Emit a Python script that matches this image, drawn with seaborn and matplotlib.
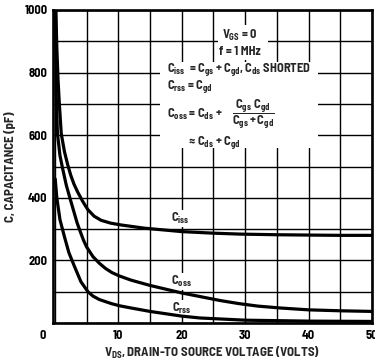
import matplotlib
matplotlib.use("Agg")
import matplotlib.pyplot as plt
import seaborn as sns
import pandas as pd
from matplotlib.patches import Rectangle
from matplotlib.transforms import ScaledTranslation

# ---- data ----
ciss_v = [0.15, 0.3, 0.5, 0.7, 1.0, 1.5, 2.0, 2.5, 3.0, 3.6, 4.4, 5.2, 6.2, 7.3, 8.8, 10.5, 14.1, 20, 25, 29.2, 35, 39.7, 45, 50]
ciss_c = [1000, 880, 775, 700, 605, 548, 507, 472, 444, 418, 388, 362, 341, 328, 319, 313, 303, 292, 287, 284, 282, 281, 280, 280]

coss_v = [0.1, 0.15, 0.2, 0.4, 0.8, 1.2, 1.8, 2.5, 3.0, 3.5, 4.0, 4.5, 5.0, 6.0, 7.0, 8.0, 9.0, 10.2, 12, 15, 20, 23, 26, 29, 32, 35.5, 40, 45, 50]
coss_c = [1000, 850, 730, 605, 535, 495, 440, 390, 355, 320, 292, 265, 243, 212, 191, 174, 161, 150, 137, 120, 96, 84, 72, 62, 54, 48, 42, 39, 37]

crss_v = [0.05, 0.3, 0.8, 1.5, 2.2, 3.1, 4.1, 5.2, 6.0, 7.0, 8.9, 10.2, 12, 15, 20, 22.9, 30, 40, 50]
crss_c = [460, 400, 330, 276, 225, 180, 132, 100, 86, 75, 62, 55, 48, 37, 22, 16, 9, 6, 5]

x_ticks = [0, 5, 10, 15, 20, 25, 30, 35, 40, 45, 50]
x_labels = ["0", "", "10", "", "20", "", "30", "", "40", "", "50"]
y_ticks = [0, 100, 200, 300, 400, 500, 600, 700, 800, 900, 1000]
y_labels = ["", "", "200", "", "400", "", "600", "", "800", "", "1000"]

curve_labels = [r"$C_{iss}$", r"$C_{oss}$", r"$C_{rss}$"]
curve_label_v = [19.7, 20.0, 20.0]
curve_label_c = [335, 133, 47]

FONT = "Barlow Semi Condensed"
sns.set_theme(style="white")
plt.rcParams["font.family"] = [FONT, "DejaVu Sans"]
plt.rcParams["font.weight"] = "bold"
plt.rcParams["mathtext.fontset"] = "custom"
plt.rcParams["mathtext.rm"] = FONT + ":bold"
plt.rcParams["mathtext.it"] = FONT + ":bold"
plt.rcParams["mathtext.bf"] = FONT + ":bold"
plt.rcParams["mathtext.sf"] = FONT + ":bold"

fig = plt.figure(figsize=(3.75, 3.62), dpi=100)
ax = fig.add_axes([53 / 375, 1 - 323 / 362, 319 / 375, 313 / 362])

frames = []
for name, v, c in [("Ciss", ciss_v, ciss_c), ("Coss", coss_v, coss_c), ("Crss", crss_v, crss_c)]:
    frames.append(pd.DataFrame({"V": v, "C": c, "curve": name}))
df = pd.concat(frames, ignore_index=True)

sns.lineplot(data=df, x="V", y="C", units="curve", estimator=None, color="black",
             linewidth=2.3, ax=ax, sort=False, zorder=5, legend=False)

ax.set_xlim(-0.3, 50)
ax.set_ylim(0, 1000)
ax.set_xticks(x_ticks)
ax.set_xticklabels(x_labels)
ax.set_yticks(y_ticks)
ax.set_yticklabels(y_labels)
ax.tick_params(axis="both", length=0, labelsize=9, colors="black")
ax.tick_params(axis="x", pad=5)
ax.tick_params(axis="y", pad=4)
for lab in ax.get_xticklabels() + ax.get_yticklabels():
    lab.set_fontweight("bold")
first = ax.get_xticklabels()[0]
first.set_transform(first.get_transform() + ScaledTranslation(-12 / 100, 0, fig.dpi_scale_trans))

ax.grid(True, color="black", linewidth=1.0)
ax.set_axisbelow(True)
for s in ax.spines.values():
    s.set_color("black")
    s.set_linewidth(1.9)

ax.set_xlabel(r"$V_{DS}$, DRAIN-TO SOURCE VOLTAGE (VOLTS)", fontsize=9.3, fontweight="bold", labelpad=3)
ax.set_ylabel("C, CAPACITANCE (pF)", fontsize=9.3, fontweight="bold", labelpad=6)

# white blocks behind the condition / formula text
ax.add_patch(Rectangle((0.517, 0.840), 0.157, 0.112, transform=ax.transAxes,
                       facecolor="white", edgecolor="none", zorder=2))
ax.add_patch(Rectangle((0.335, 0.559), 0.495, 0.275, transform=ax.transAxes,
                       facecolor="white", edgecolor="none", zorder=2))

fs = 9
ax.text(0.586, 0.920, r"$V_{GS}$ = 0", transform=ax.transAxes, ha="center", va="center", fontsize=fs, zorder=6)
ax.text(0.586, 0.866, "f = 1 MHz", transform=ax.transAxes, ha="center", va="center", fontsize=fs, zorder=6)
ax.text(0.357, 0.808, r"$C_{iss}$  = $C_{gs}$ + $C_{gd}$, $C_{ds}$ SHORTED", transform=ax.transAxes,
        ha="left", va="center", fontsize=fs, zorder=6)
ax.text(0.357, 0.754, r"$C_{rss}$ = $C_{gd}$", transform=ax.transAxes, ha="left", va="center", fontsize=fs, zorder=6)
ax.text(0.357, 0.665, r"$C_{oss}$ = $C_{ds}$ +", transform=ax.transAxes, ha="left", va="center", fontsize=fs, zorder=6)
ax.text(0.627, 0.665, r"$\dfrac{C_{gs}\ C_{gd}}{C_{gs} + C_{gd}}$", transform=ax.transAxes,
        ha="center", va="center", fontsize=fs, zorder=6)
ax.text(0.42, 0.575, r"$\approx C_{ds}$ + $C_{gd}$", transform=ax.transAxes, ha="left", va="center", fontsize=fs, zorder=6)

for lab, v, c in zip(curve_labels, curve_label_v, curve_label_c):
    ax.text(v, c, lab, ha="center", va="center", fontsize=fs, zorder=4,
            bbox=dict(facecolor="white", edgecolor="none", pad=0.6))

fig.savefig("out.png", dpi=100)
